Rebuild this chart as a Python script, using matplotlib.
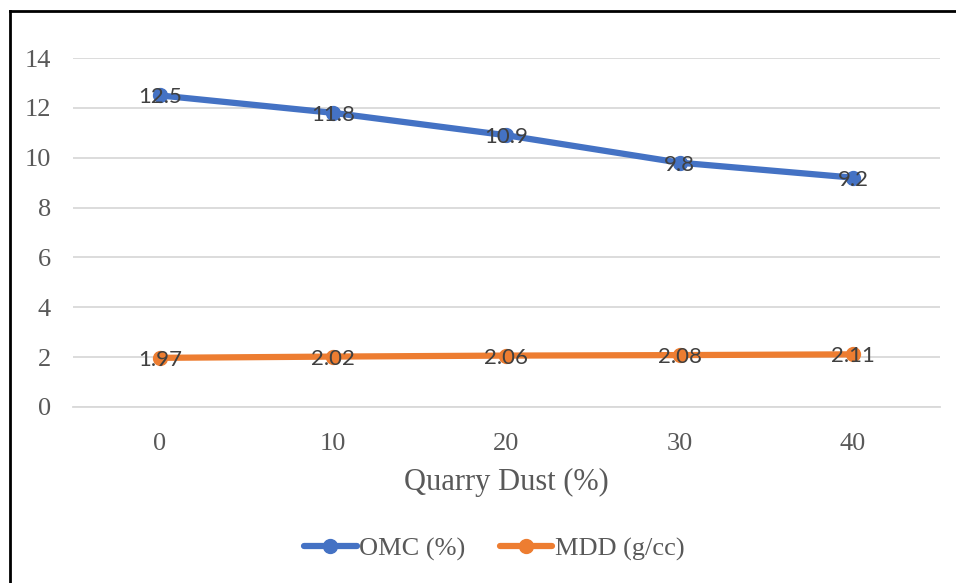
import matplotlib.pyplot as plt
from matplotlib.lines import Line2D

# quarry dust content vs. compaction results
quarry_dust = [0, 10, 20, 30, 40]
omc = [12.5, 11.8, 10.9, 9.8, 9.2]
mdd = [1.97, 2.02, 2.06, 2.08, 2.11]

blue = '#4472C4'
orange = '#ED7D31'
serif = ['Liberation Serif', 'DejaVu Serif']
label_font = ['Lato', 'DejaVu Sans']

fig = plt.figure(figsize=(9.56, 5.83), dpi=100)
ax = fig.add_axes([0.0764, 0.302, 0.9066, 0.5985])

x = list(range(len(quarry_dust)))
ax.plot(x, omc, color=blue, lw=4.5, marker='o', ms=10, solid_capstyle='round',
        label='OMC (%)', zorder=3)
ax.plot(x, mdd, color=orange, lw=4.5, marker='o', ms=10, solid_capstyle='round',
        label='MDD (g/cc)', zorder=3)

# data labels centred on the points
for xi, v in zip(x, omc):
    ax.text(xi, v - 0.08, f'{v:g}', ha='center', va='center', fontsize=16,
            family=label_font, color='#404040', zorder=4)
for xi, v in zip(x, mdd):
    ax.text(xi, v - 0.08, f'{v:.2f}', ha='center', va='center', fontsize=16,
            family=label_font, color='#404040', zorder=4)

ax.set_xlim(-0.5, len(x) - 0.5)
ax.set_ylim(0, 14)
ax.set_yticks(range(0, 15, 2))
ax.set_xticks(x)
ax.set_xticklabels([str(q) for q in quarry_dust])
ax.grid(axis='y', color='#D9D9D9', lw=1.3)
ax.set_axisbelow(True)
for s in ['top', 'right', 'left']:
    ax.spines[s].set_visible(False)
ax.spines['bottom'].set_color('#D9D9D9')
ax.spines['bottom'].set_linewidth(1.3)
ax.tick_params(length=0, labelsize=19, labelcolor='#595959')
ax.tick_params(axis='x', pad=19)
ax.tick_params(axis='y', pad=16)
for t in ax.get_xticklabels() + ax.get_yticklabels():
    t.set_family(serif)

ax.set_xlabel('Quarry Dust (%)', fontsize=22, family=serif, color='#595959',
              labelpad=9)

handles = [Line2D([], [], color=blue, lw=4.5, marker='o', ms=10, solid_capstyle='round'),
           Line2D([], [], color=orange, lw=4.5, marker='o', ms=10, solid_capstyle='round')]
fig.legend(handles, ['OMC (%)', 'MDD (g/cc)'], loc='center', bbox_to_anchor=(0.517, 0.058),
           ncol=2, frameon=False, handlelength=2.0, handletextpad=0.1,
           columnspacing=1.3, prop={'family': serif, 'size': 19},
           labelcolor='#595959')

# chart border (left and top edges)
fig.add_artist(Line2D([9.5 / 956, 9.5 / 956], [0, 1 - 10.5 / 583], color='black', lw=2,
                      transform=fig.transFigure))
fig.add_artist(Line2D([9.5 / 956, 1], [1 - 10.5 / 583, 1 - 10.5 / 583], color='black', lw=2,
                      transform=fig.transFigure))

fig.savefig('out.png', dpi=100)
